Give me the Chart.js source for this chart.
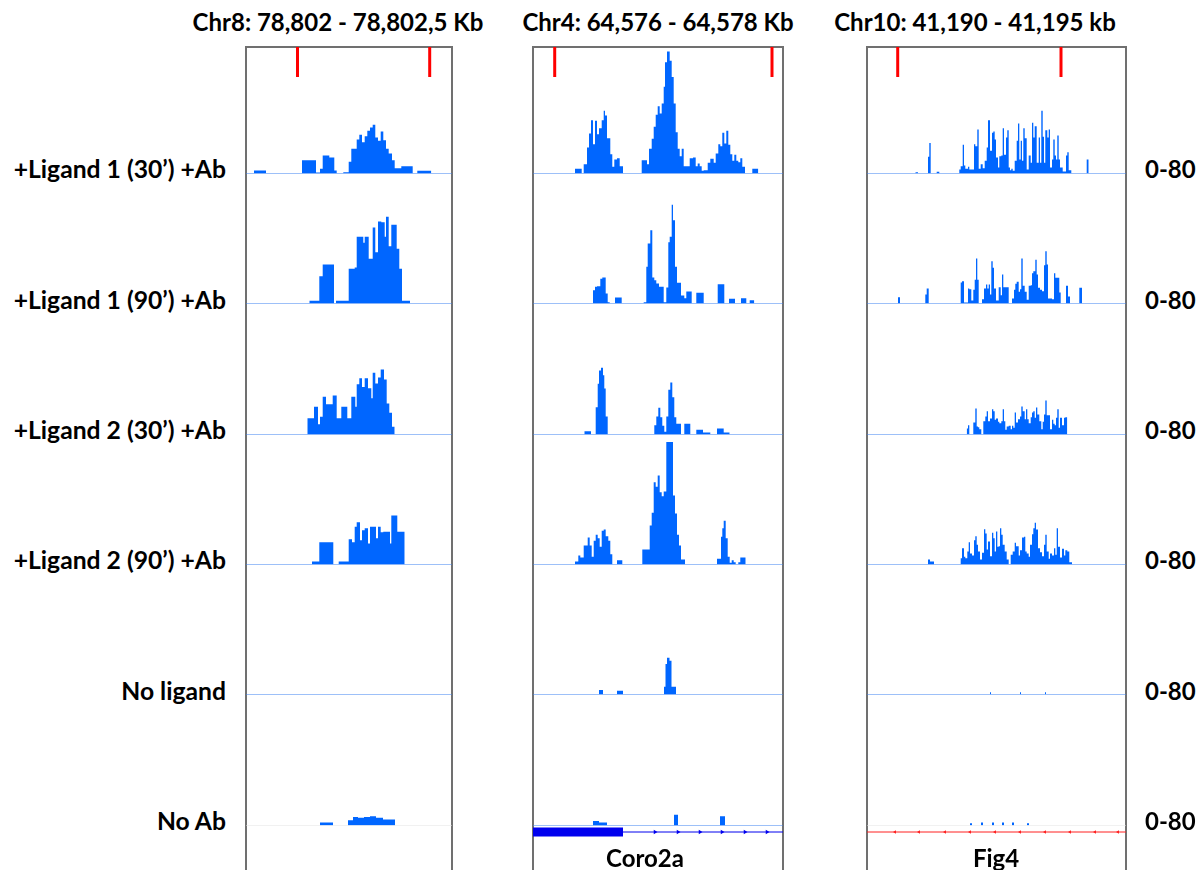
<!DOCTYPE html>
<html>
<head>
<meta charset="utf-8">
<script src="https://cdn.jsdelivr.net/npm/chart.js@4.4.1/dist/chart.umd.min.js"></script>
<style>
  html, body { margin: 0; padding: 0; background: #fff; }
  body { width: 1200px; height: 870px; position: relative; overflow: hidden;
         font-family: Lato, "Open Sans", sans-serif; font-weight: 700; color: #000; }
  .frame { position: absolute; top: 46px; height: 840px; box-sizing: border-box;
           border: 2px solid #707070; border-bottom: none; }
  .txt { position: absolute; white-space: nowrap; font-size: 24px; line-height: 28px; height: 28px; }
  .row { font-size: 24.7px; }
  canvas { position: absolute; }
</style>
</head>
<body>
<script>
// ---- coverage tracks: [bin start, read depth] pairs, depth holds until the next start ----
const conditions = ["+Ligand 1 (30\u2019) +Ab", "+Ligand 1 (90\u2019) +Ab", "+Ligand 2 (30\u2019) +Ab",
                    "+Ligand 2 (90\u2019) +Ab", "No ligand", "No Ab"];
const depthRange = [0, 80];
const rangeLabel = "0-80";
const locusTitles = ["Chr8: 78,802 - 78,802,5 Kb", "Chr4: 64,576 - 64,578 Kb", "Chr10: 41,190 - 41,195 kb"];
const geneNames = ["", "Coro2a", "Fig4"];

// Chr8 window
const chr8Marks = [51.5, 183.7];
const chr8Lig1m30 = [[8,2.0],[20,0],[56,8.7],[70,0.7],[74,3.1],[76.7,11.8],[83.3,10.4],[88.3,2.0],[90.7,0],[97.3,0.8],[102.7,7.6],[105.3,16.1],[110.7,22.2],[113.3,25.3],[116,20.4],[118.7,24.4],[121.3,27.9],[124,30.0],[126.7,31.8],[129.3,23.5],[132,21.4],[134.7,27.4],[137.3,21.7],[140,16.1],[142.7,13.1],[146,8.7],[148.7,3.5],[155.3,4.8],[166.7,0],[171.3,1.8],[185.3,0]];
const chr8Lig1m90 = [[63.3,1.8],[73.3,17.8],[76.7,25.5],[88,0],[90,1.8],[102.7,22.7],[108.7,23.5],[110.7,43.6],[117.3,39.6],[118.7,43.6],[122.7,29.2],[126.7,49.6],[129.3,33.5],[132,53.5],[135.3,53.1],[138.7,43.6],[140,56.6],[142.7,37.4],[145.3,51.4],[150.7,35.7],[153.3,22.7],[156,1.8],[164,0]];
const chr8Lig2m30 = [[61.3,10.6],[68,18.1],[72,6.7],[74,11.6],[76.7,24.6],[80,19.8],[86.7,25.5],[90.7,10.6],[95.3,18.1],[101.3,10.6],[105.3,24.6],[109.3,18.1],[110.7,32.8],[113.3,36.8],[116,31.1],[118.7,36.8],[122,30.2],[125.3,23.7],[126.7,40.3],[129.3,33.3],[132,37.2],[134.7,42.4],[138,35.9],[140.7,20.2],[143.3,14.2],[146,5.0],[148.7,0]];
const chr8Lig2m90 = [[66,2.0],[73.3,14.6],[87.3,0],[92.7,2.0],[102.7,16.5],[106,14.6],[108.7,24.6],[110.7,27.6],[114,15.9],[116,22.4],[118.7,23.7],[122,13.7],[124,24.6],[130,17.2],[132,24.6],[134.7,21.1],[137.3,21.4],[144,13.7],[145.3,32.0],[151.3,21.4],[158.7,0]];
const chr8NoLigand = [];
const chr8NoAb = [[74,2.0],[87,0],[102,3.5],[107,5.5],[112,5.0],[118,5.5],[124,6.0],[130,5.0],[137,4.0],[149,0]];

// Chr4 window (Coro2a)
const chr4Marks = [21.7, 239];
const chr4Lig1m30 = [[42,3.1],[48.7,0],[50.7,6.1],[54,17.0],[56,26.1],[58,34.8],[60,19.1],[62,34.4],[64,25.7],[66,29.6],[68.7,34.8],[70.7,40.9],[72,37.9],[74,23.1],[77.3,12.6],[79.3,4.4],[81.3,9.1],[84,10.0],[86.7,4.8],[90,0],[108.7,8.7],[114,6.1],[116,16.1],[118.7,22.7],[120.7,30.5],[122.7,38.3],[124.7,43.9],[126.7,39.2],[128.7,45.7],[130.7,56.6],[132,72.7],[134,79.7],[136.7,73.6],[138.7,63.1],[140.7,45.7],[142.7,27.0],[144.7,16.1],[146.7,11.3],[148.7,16.1],[150.7,4.8],[156.7,10.0],[160,10.4],[162.7,4.8],[164.7,6.5],[166.7,4.8],[168.7,1.8],[170.7,2.2],[174.7,7.0],[177.3,9.6],[180.7,7.0],[182.7,13.1],[185.3,19.1],[187.3,17.8],[189.3,26.6],[191.3,19.6],[193.3,27.9],[195.3,18.7],[197.3,12.6],[199.3,8.3],[201.3,12.2],[203.3,8.3],[205.3,7.4],[207.3,10.0],[209.3,4.4],[212,0],[219.3,3.1],[225.3,0]];
const chr4Lig1m90 = [[60,8.7],[62,10.9],[64,11.3],[67.3,16.1],[69.3,17.0],[72.7,6.5],[74.7,0.8],[76.7,0],[82,3.9],[88.7,0],[110.7,0.8],[113.3,24.0],[114.7,39.2],[117.3,47.9],[119.3,17.0],[121.3,15.2],[123.3,13.1],[126,10.9],[130.7,0.8],[133.3,10.4],[135.3,40.0],[136.7,43.6],[138.7,64.5],[140,54.4],[142,24.0],[144,13.5],[148,5.2],[151.3,3.5],[153.3,7.8],[158.7,0],[163.3,7.0],[170.7,0],[184.7,12.6],[191.3,0],[196,3.1],[202,0],[208,3.5],[213.3,0],[216.7,2.2],[221.3,0]];
const chr4Lig2m30 = [[51.3,2.2],[58,0],[62.7,17.8],[64.7,33.1],[66,41.8],[68,43.6],[70,38.7],[71.3,30.0],[72.7,11.8],[74.7,0],[121.3,6.1],[123.3,11.8],[125.3,17.4],[127.3,11.3],[129.3,5.7],[131.3,1.8],[133.3,11.8],[135.3,29.2],[137.3,34.0],[139.3,24.4],[141.3,11.3],[143.3,7.0],[148,0],[151.3,7.0],[157.3,0],[163.3,3.1],[170,1.3],[177.3,0],[184,3.9],[190.7,1.3],[196.7,0]];
const chr4Lig2m90 = [[42,2.0],[45.3,5.9],[47.3,4.6],[50.7,12.4],[54.7,17.6],[56.7,12.4],[58.7,5.0],[60.7,15.5],[62.7,19.4],[64.7,17.2],[66.7,11.6],[68.7,22.0],[70.7,22.9],[72.7,18.5],[75.3,15.5],[77.3,6.7],[79.3,0],[84,2.8],[89.3,0],[109.3,9.8],[116.7,25.5],[118.7,33.8],[120.7,53.7],[122.7,50.7],[124.7,58.1],[126.7,47.2],[128.7,44.6],[130.7,47.7],[133.3,80],[140,45.1],[142,33.3],[144,19.4],[146,12.4],[148,3.3],[152,0],[184,3.7],[188,18.1],[189.3,23.7],[190.7,28.5],[192.7,17.2],[194.7,5.0],[196.7,1.1],[198.7,2.8],[200.7,1.5],[202.7,0],[205.3,1.5],[207.3,4.6],[212.7,0]];
const chr4NoLigand = [[66,3.0],[70,0],[84,2.5],[90,0],[131,5.0],[132.5,20.0],[134,24.0],[136.5,22.0],[138.5,5.0],[143,0]];
const chr4NoAb = [[60,3.0],[66,2.0],[74,0],[141,7.0],[145,0],[187,6.0],[192,0]];

// Chr10 window (Fig4)
const chr10Marks = [30.7, 194];
const chr10Lig1m30 = [[48.3,0.8],[51,0],[61,10.9],[62.3,20.0],[63.7,0],[69.7,1.1],[72.3,0],[92.3,2.6],[93.7,4.8],[95.7,18.7],[97,5.2],[98.3,3.1],[101,4.4],[102.3,2.6],[107,19.1],[108.3,17.8],[110.3,28.7],[111.7,3.1],[113.7,6.1],[115.7,3.5],[117.7,8.3],[119.7,17.0],[121,34.8],[123,14.8],[125,26.6],[126.3,27.4],[127.7,22.2],[129,10.4],[131,3.9],[132.3,11.3],[134.3,11.8],[135.7,29.6],[137,12.2],[139,23.5],[140.3,28.3],[141.7,3.9],[143,2.2],[144.3,3.1],[145.7,1.8],[147.7,8.3],[149.7,21.4],[151,32.7],[152.3,9.1],[153.7,21.4],[155,8.3],[156.3,29.6],[157.7,23.1],[159.7,2.6],[161.7,11.8],[163.7,7.0],[165,33.1],[166.3,23.5],[167.7,30.9],[169.7,7.0],[171.7,23.5],[173,7.0],[174.3,40.9],[175.7,24.0],[177,7.0],[178.3,28.3],[180.3,23.5],[181.7,28.7],[183,3.9],[185,9.1],[186.3,22.2],[187.7,11.8],[189,9.1],[190.3,24.8],[191.7,9.1],[193,3.9],[195.7,1.3],[199,11.8],[200.3,13.9],[201.7,2.2],[204.3,0],[219.7,9.1],[221.7,0]];
const chr10Lig1m90 = [[31,4.1],[33,0],[58.3,5.9],[59.7,9.8],[61.7,0],[93.7,13.7],[95,14.6],[97,0.7],[101,9.8],[102.3,9.3],[104.3,2.0],[106.3,8.9],[107.7,15.5],[109,29.4],[110.3,15.5],[111.7,0],[115,2.8],[117,9.8],[119,12.4],[120.3,9.8],[121.7,12.4],[123,5.9],[124.3,27.6],[125.7,23.3],[127,9.8],[129,2.0],[131.7,10.6],[133.7,5.4],[135,18.9],[136.3,10.6],[141.7,0],[145,3.3],[147,8.9],[148.3,12.9],[149.7,14.2],[151.7,7.6],[153,9.3],[154.3,29.4],[155.7,11.6],[157.7,7.6],[159.7,2.4],[161.7,11.6],[163.7,12.0],[165,19.8],[166.3,21.1],[168.3,28.5],[169.7,18.9],[171,10.3],[173,8.9],[175,8.0],[177,25.0],[178.3,34.2],[179.7,25.5],[181,3.3],[185,2.8],[187,19.8],[188.3,16.8],[192.3,7.2],[193.7,0],[199,11.6],[201,4.6],[203,0],[212.3,10.3],[215,0]];
const chr10Lig2m30 = [[99.7,3.9],[101,6.1],[102.3,0],[106.3,7.8],[108.3,17.0],[109.7,5.2],[111,4.8],[112.3,3.5],[114.3,0],[116.3,8.7],[118.3,11.8],[119.7,15.2],[121,8.7],[123,10.4],[125,16.5],[126.3,15.2],[127.7,9.6],[129,10.4],[131,8.3],[132.3,7.4],[134.3,8.7],[135.7,16.5],[137,8.7],[138.3,3.1],[139.7,5.2],[141.7,5.7],[143.7,3.5],[145,5.7],[146.3,4.4],[147.7,14.4],[149,7.8],[151,10.0],[153,11.8],[154.3,18.3],[155.7,15.2],[157.7,10.0],[159,16.5],[160.3,10.0],[161.7,7.4],[163.7,11.3],[165,14.4],[166.3,15.2],[167.7,10.9],[169,17.6],[170.3,13.1],[172.3,8.7],[174.3,3.5],[175.7,8.3],[177,13.1],[178.3,22.2],[179.7,12.6],[183,3.5],[185,9.6],[186.3,7.0],[187.7,6.1],[189,10.9],[190.3,16.5],[191.7,4.4],[193,10.9],[195,6.1],[197,10.9],[198.3,11.3],[200.3,0]];
const chr10Lig2m90 = [[61,3.3],[63,2.0],[67,0],[93.7,4.1],[95,10.6],[97,5.0],[98.3,4.1],[100.3,8.5],[101.7,14.6],[103,7.2],[105,5.9],[107,15.9],[108.3,18.5],[109.7,12.9],[111,8.5],[113,3.3],[115,7.6],[117,23.1],[118.3,20.2],[119.7,9.8],[121,15.0],[123,5.4],[125,20.7],[126.3,17.2],[127.7,8.5],[129,21.5],[130.3,11.6],[131.7,12.0],[133,23.7],[134.3,19.4],[135.7,12.9],[137.7,8.5],[139.7,3.3],[141.7,0],[143.7,6.3],[145.7,8.5],[147.7,14.2],[149,12.0],[151.7,5.9],[153,9.3],[155,17.6],[157,18.1],[158.3,8.5],[159.7,7.2],[161.7,5.0],[163,12.9],[165,19.8],[166.3,23.7],[167.7,27.2],[169,22.9],[171,10.6],[173,8.0],[175,5.4],[177,12.9],[178.3,19.4],[179.7,8.5],[181.7,3.7],[183,7.2],[185,5.9],[187,10.6],[188.3,6.3],[189.7,23.7],[191,11.6],[193,4.6],[195,10.3],[197,5.9],[198.3,9.3],[200.3,8.5],[202.3,1.5],[205,0]];
const chr10NoLigand = [[123,1.5],[124,0],[153,1.5],[154,0],[178,1.5],[179,0]];
const chr10NoAb = [[103,1.5],[105,0],[114,2.0],[116,0],[125,2.0],[127,0],[135,2.0],[137,0],[145,2.0],[147,0],[160,1.5],[162,0]];

// gene models: exon block, intron span, strand arrow positions
const coro2aExon = [0, 90];
const coro2aIntron = [90, 250];
const coro2aArrows = [122, 145, 167, 189, 212, 234];
const fig4Line = [0, 259];
const fig4Arrows = [28, 52, 78, 103, 128, 153, 178, 203, 228, 251];

// ---- layout ----
const panels = [
  { left: 246, width: 206, title: locusTitles[0], titleX: 338, marks: chr8Marks,
    tracks: [chr8Lig1m30, chr8Lig1m90, chr8Lig2m30, chr8Lig2m90, chr8NoLigand, chr8NoAb] },
  { left: 533, width: 250, title: locusTitles[1], titleX: 658, marks: chr4Marks,
    tracks: [chr4Lig1m30, chr4Lig1m90, chr4Lig2m30, chr4Lig2m90, chr4NoLigand, chr4NoAb] },
  { left: 867, width: 259, title: locusTitles[2], titleX: 975, marks: chr10Marks,
    tracks: [chr10Lig1m30, chr10Lig1m90, chr10Lig2m30, chr10Lig2m90, chr10NoLigand, chr10NoAb] }
];
const FIRST_BASE = 173.3, TRACK_STEP = 130.35;
const BAR_COLOR = '#0066ff', AXIS_COLOR = '#3d82f2';

const baseOpts = (w, ymin, ymax, pad) => ({
  responsive: false, animation: false, events: [],
  layout: { padding: pad, autoPadding: false },
  plugins: { legend: { display: false }, tooltip: { enabled: false } },
  scales: { x: { type: 'linear', min: 0, max: w, display: false },
            y: { type: 'linear', min: ymin, max: ymax, display: false } }
});

function addCanvas(left, top, w, h) {
  const c = document.createElement('canvas');
  c.width = w; c.height = h;
  c.style.left = left + 'px'; c.style.top = top + 'px';
  c.style.width = w + 'px'; c.style.height = h + 'px';
  document.body.appendChild(c);
  return c;
}

function addText(str, x, cy, align, extraClass) {
  const d = document.createElement('div');
  d.className = 'txt' + (extraClass ? ' ' + extraClass : '');
  d.textContent = str;
  d.style.top = (cy - 14) + 'px';
  if (align === 'right') { d.style.right = (1200 - x) + 'px'; }
  else if (align === 'center') { d.style.left = x + 'px'; d.style.transform = 'translateX(-50%)'; }
  else { d.style.left = x + 'px'; }
  document.body.appendChild(d);
}

panels.forEach((p, pi) => {
  // frame
  const f = document.createElement('div');
  f.className = 'frame';
  f.style.left = (p.left - 1) + 'px';
  f.style.width = (p.width + 2) + 'px';
  document.body.appendChild(f);

  addText(p.title, p.titleX, 22, 'center');

  // region marks
  const mc = addCanvas(p.left, 47, p.width, 30);
  new Chart(mc, { type: 'scatter',
    data: { datasets: [{ data: p.marks.map(x => ({ x, y: 0.5 })), pointStyle: 'line', rotation: 90,
      pointRadius: 15, borderWidth: 3, borderColor: '#ff0000', clip: false }] },
    options: baseOpts(p.width, 0, 1, 0) });

  // coverage tracks
  p.tracks.forEach((t, ti) => {
    const base = FIRST_BASE + ti * TRACK_STEP;
    const cv = addCanvas(p.left, Math.round(base - 126.5), p.width, 130);
    const isLast = ti === p.tracks.length - 1;
    new Chart(cv, { type: 'line',
      data: { datasets: [
        { data: t.map(([x, y]) => ({ x, y })), stepped: true, fill: 'origin',
          backgroundColor: BAR_COLOR, borderColor: 'transparent', borderWidth: 0, pointRadius: 0 },
        { data: [{ x: 0, y: 0 }, { x: p.width, y: 0 }], borderColor: isLast && pi !== 1 ? '#e4e4e4' : AXIS_COLOR,
          borderWidth: 1, pointRadius: 0, fill: false }
      ] },
      options: baseOpts(p.width, depthRange[0], depthRange[1], { top: 4, bottom: 3.5, left: 0, right: 0 }) });
  });
});

// gene models under the Chr4 and Chr10 windows
(function () {
  const p = panels[1];
  const gc = addCanvas(p.left, 818, p.width, 28);
  new Chart(gc, { type: 'line',
    data: { datasets: [
      { data: coro2aExon.map(x => ({ x, y: 0.5 })), borderColor: '#0000ee', borderWidth: 9, borderCapStyle: 'butt', pointRadius: 0 },
      { data: coro2aIntron.map(x => ({ x, y: 0.5 })), borderColor: '#0000ee', borderWidth: 1, pointRadius: 0 },
      { data: coro2aArrows.map(x => ({ x, y: 0.5 })), showLine: false, pointStyle: 'triangle', rotation: 90,
        pointRadius: 2.5, backgroundColor: '#0000ee', borderColor: '#0000ee', borderWidth: 0 }
    ] },
    options: baseOpts(p.width, 0, 1, 0) });
  addText(geneNames[1], 645, 858, 'center');

  const q = panels[2];
  const fc = addCanvas(q.left, 818, q.width, 28);
  new Chart(fc, { type: 'line',
    data: { datasets: [
      { data: fig4Line.map(x => ({ x, y: 0.5 })), borderColor: '#ff2020', borderWidth: 1, pointRadius: 0 },
      { data: fig4Arrows.map(x => ({ x, y: 0.5 })), showLine: false, pointStyle: 'triangle', rotation: -90,
        pointRadius: 2, backgroundColor: '#ff2020', borderColor: '#ff2020', borderWidth: 0 }
    ] },
    options: baseOpts(q.width, 0, 1, 0) });
  addText(geneNames[2], 996, 858, 'center');
})();

// row labels and data range
conditions.forEach((c, i) => {
  const base = FIRST_BASE + i * TRACK_STEP;
  addText(c, 226, base - 4, 'right', 'row');
  addText(rangeLabel, 1145, base - 4, 'left');
});
</script>
</body>
</html>
